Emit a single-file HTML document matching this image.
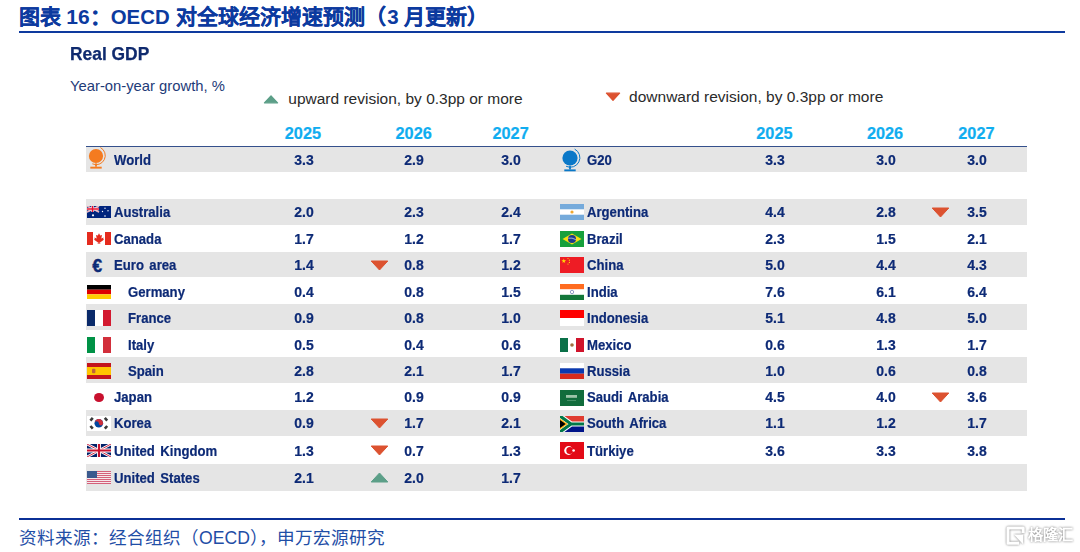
<!DOCTYPE html>
<html lang="zh-CN"><head><meta charset="utf-8"><style>
html,body{margin:0;padding:0;background:#fff;}
body{width:1080px;height:552px;position:relative;overflow:hidden;font-family:"Liberation Sans",sans-serif;}
.a{position:absolute;white-space:nowrap;}
.band{position:absolute;left:86px;width:940.5px;background:#e5e5e5;}
.t{position:absolute;white-space:nowrap;font-weight:bold;font-size:14.6px;color:#0d2a76;line-height:16px;-webkit-text-stroke:0.2px #0d2a76;transform:scaleX(0.9);transform-origin:0 0;word-spacing:2px;}
.n{position:absolute;white-space:nowrap;font-weight:bold;font-size:14.6px;color:#0d2a76;line-height:16px;-webkit-text-stroke:0.2px #0d2a76;width:40px;text-align:center;transform:scaleX(0.96);}
.yr{position:absolute;white-space:nowrap;font-weight:bold;font-size:16.3px;color:#10adf0;line-height:18px;width:60px;text-align:center;top:124.2px;-webkit-text-stroke:0.2px #10adf0;}
.f{position:absolute;line-height:0;}
.f svg{display:block;}
.ck{-webkit-text-stroke:0.12px #0c3a9f;}
</style></head><body>

<div class="a" style="left:18.5px;top:4px;font-size:21px;font-weight:bold;color:#0c3a9f;line-height:26px;"><span class="ck">图表</span><span style="font-size:21px"> 16</span><span class="ck">：</span><span style="font-size:20.4px;margin-right:1px">OECD </span><span class="ck">对全球经济增速预测（</span><span style="font-size:20.5px;margin-left:1px">3 </span><span class="ck">月更新）</span></div>
<div class="a" style="left:18.6px;top:31px;width:1046.4px;height:2px;background:#0e3a9e;"></div>
<div class="a" style="left:70.3px;top:44px;font-size:18.6px;font-weight:bold;color:#0f2a6e;line-height:20px;transform:scaleX(0.935);transform-origin:0 0;-webkit-text-stroke:0.25px #0f2a6e;">Real GDP</div>
<div class="a" style="left:70px;top:76.8px;font-size:14.8px;color:#1e3b78;line-height:18px;">Year-on-year growth, %</div>
<svg class="a" style="left:262.5px;top:93.6px" width="16" height="10" viewBox="0 0 16 10"><path d="M8 1.8L14.6 8.8H1.4Z" fill="#5c9f88" stroke="#5c9f88" stroke-width="1.2" stroke-linejoin="round"/></svg>
<div class="a" style="left:288.3px;top:90px;font-size:15.5px;color:#2a2a2a;line-height:18px;">upward revision, by 0.3pp or more</div>
<svg class="a" style="left:604.5px;top:92.2px" width="16" height="10" viewBox="0 0 16 10"><path d="M1.4 1.2H14.6L8 8.4Z" fill="#dc5230" stroke="#dc5230" stroke-width="1.2" stroke-linejoin="round"/></svg>
<div class="a" style="left:629.1px;top:88px;font-size:15.5px;color:#2a2a2a;line-height:18px;">downward revision, by 0.3pp or more</div>
<div class="yr" style="left:272.9px">2025</div>
<div class="yr" style="left:383.7px">2026</div>
<div class="yr" style="left:480.6px">2027</div>
<div class="yr" style="left:744.4px">2025</div>
<div class="yr" style="left:855.0px">2026</div>
<div class="yr" style="left:946.4px">2027</div>
<div class="a" style="left:86px;top:146px;width:940.5px;height:1px;background:#34508c;"></div>
<div class="band" style="top:147px;height:25px"></div>
<div class="f" style="left:83.50px;top:144.00px"><svg width="26" height="28" viewBox="0 0 26 28"><circle cx="12" cy="12" r="7.1" fill="#f47b20"/>
<path d="M16.45 3.55A9.1 9.1 0 0 1 8.33 19.83" fill="none" stroke="#f47b20" stroke-width="1"/>
<rect x="11.10" y="19.33" width="1.8" height="3.37" fill="#f47b20"/><rect x="6.30" y="22.70" width="11.4" height="1.9" fill="#f47b20"/></svg></div>
<div class="t" style="left:113.7px;top:151.84px">World</div>
<div class="n" style="left:283.5px;top:151.84px">3.3</div>
<div class="n" style="left:394.3px;top:151.84px">2.9</div>
<div class="n" style="left:491.2px;top:151.84px">3.0</div>
<div class="f" style="left:557.90px;top:145.60px"><svg width="26" height="28" viewBox="0 0 26 28"><circle cx="12" cy="12" r="7.6" fill="#0a78c8"/>
<path d="M16.66 3.10A9.6 9.6 0 0 1 8.09 20.28" fill="none" stroke="#0a78c8" stroke-width="1"/>
<rect x="11.10" y="19.78" width="1.8" height="3.62" fill="#0a78c8"/><rect x="6.30" y="23.40" width="11.4" height="1.9" fill="#0a78c8"/></svg></div>
<div class="t" style="left:587.0px;top:151.84px">G20</div>
<div class="n" style="left:755.0px;top:151.84px">3.3</div>
<div class="n" style="left:865.6px;top:151.84px">3.0</div>
<div class="n" style="left:957.0px;top:151.84px">3.0</div>
<div class="band" style="top:198.5px;height:26.0px"></div>
<div class="band" style="top:251.5px;height:25.8px"></div>
<div class="band" style="top:304.3px;height:26.0px"></div>
<div class="band" style="top:356.9px;height:26.0px"></div>
<div class="band" style="top:409.5px;height:26.3px"></div>
<div class="band" style="top:463.7px;height:27.6px"></div>
<div class="f" style="left:86.7px;top:205.9px"><svg width="24" height="12" viewBox="0 0 24 12"><rect width="24" height="12" fill="#00247d"/>
<path d="M0 0L12 6M12 0L0 6" stroke="#fff" stroke-width="1.5"/><path d="M0 0L12 6M12 0L0 6" stroke="#e4203c" stroke-width="0.5"/>
<path d="M5.5 0V6M0 3H12" stroke="#fff" stroke-width="2.4"/><path d="M5.5 0V6M0 3H12" stroke="#e8102e" stroke-width="1.4"/>
<circle cx="6" cy="9.3" r="1.1" fill="#fff"/><circle cx="18" cy="2.2" r="0.7" fill="#fff"/><circle cx="15.5" cy="5.5" r="0.7" fill="#fff"/><circle cx="21" cy="4.8" r="0.7" fill="#fff"/><circle cx="18" cy="10" r="0.8" fill="#fff"/></svg></div>
<div class="t" style="left:113.7px;top:204.44px">Australia</div>
<div class="n" style="left:283.5px;top:204.44px">2.0</div>
<div class="n" style="left:394.3px;top:204.44px">2.3</div>
<div class="n" style="left:491.2px;top:204.44px">2.4</div>
<div class="f" style="left:86.7px;top:232.0px"><svg width="24" height="13" viewBox="0 0 24 13"><rect width="24" height="13" fill="#fff"/><rect width="6" height="13" fill="#e52b1e"/><rect x="18" width="6" height="13" fill="#e52b1e"/>
<path d="M12 1.2L13.2 3.6L15 3.1L14.3 6.6L16.6 5.4L16.2 7.2L17.2 7.6L13 10.4L13.3 12H12.4V10.6H11.6V12H10.7L11 10.4L6.8 7.6L7.8 7.2L7.4 5.4L9.7 6.6L9 3.1L10.8 3.6Z" fill="#e52b1e"/></svg></div>
<div class="t" style="left:113.7px;top:230.94px">Canada</div>
<div class="n" style="left:283.5px;top:230.94px">1.7</div>
<div class="n" style="left:394.3px;top:230.94px">1.2</div>
<div class="n" style="left:491.2px;top:230.94px">1.7</div>
<div class="a" style="left:92.3px;top:255.5px;font-size:18px;font-weight:bold;color:#0d2a76;-webkit-text-stroke:0.3px #0d2a76;line-height:20px;">€</div>
<div class="t" style="left:114.1px;top:257.44px">Euro area</div>
<div class="n" style="left:283.5px;top:257.44px">1.4</div>
<div class="n" style="left:394.3px;top:257.44px">0.8</div>
<svg class="a" style="left:369.8px;top:260.0px" width="19" height="11" viewBox="0 0 19 11"><path d="M1.2 1H17.8L9.5 10Z" fill="#dc5230" stroke="#dc5230" stroke-width="1" stroke-linejoin="round"/></svg>
<div class="n" style="left:491.2px;top:257.44px">1.2</div>
<div class="f" style="left:86.7px;top:284.7px"><svg width="24" height="14" viewBox="0 0 24 14"><rect width="24" height="4.7" fill="#000"/><rect y="4.7" width="24" height="4.6" fill="#dd0000"/><rect y="9.3" width="24" height="4.7" fill="#ffce00"/></svg></div>
<div class="t" style="left:127.5px;top:283.84px">Germany</div>
<div class="n" style="left:283.5px;top:283.84px">0.4</div>
<div class="n" style="left:394.3px;top:283.84px">0.8</div>
<div class="n" style="left:491.2px;top:283.84px">1.5</div>
<div class="f" style="left:86.7px;top:310.0px"><svg width="24" height="16" viewBox="0 0 24 16"><rect width="8" height="16" fill="#0a2a6a"/><rect x="8" width="8" height="16" fill="#fff"/><rect x="16" width="8" height="16" fill="#d31a30"/></svg></div>
<div class="t" style="left:127.5px;top:310.24px">France</div>
<div class="n" style="left:283.5px;top:310.24px">0.9</div>
<div class="n" style="left:394.3px;top:310.24px">0.8</div>
<div class="n" style="left:491.2px;top:310.24px">1.0</div>
<div class="f" style="left:86.7px;top:336.5px"><svg width="24" height="16" viewBox="0 0 24 16"><rect width="8" height="16" fill="#009246"/><rect x="8" width="8" height="16" fill="#fff"/><rect x="16" width="8" height="16" fill="#d22f3b"/></svg></div>
<div class="t" style="left:127.5px;top:336.54px">Italy</div>
<div class="n" style="left:283.5px;top:336.54px">0.5</div>
<div class="n" style="left:394.3px;top:336.54px">0.4</div>
<div class="n" style="left:491.2px;top:336.54px">0.6</div>
<div class="f" style="left:86.7px;top:363.0px"><svg width="24" height="16" viewBox="0 0 24 16"><rect width="24" height="16" fill="#c3141d"/><rect y="4" width="24" height="8" fill="#ffc400"/><rect x="5" y="5.8" width="3.4" height="4.4" rx="1" fill="#c0623a"/></svg></div>
<div class="t" style="left:127.5px;top:362.84px">Spain</div>
<div class="n" style="left:283.5px;top:362.84px">2.8</div>
<div class="n" style="left:394.3px;top:362.84px">2.1</div>
<div class="n" style="left:491.2px;top:362.84px">1.7</div>
<div class="a" style="left:93.8px;top:392.8px;width:10.3px;height:9.4px;border-radius:50%;background:#c8102e;"></div>
<div class="t" style="left:113.9px;top:389.14px">Japan</div>
<div class="n" style="left:283.5px;top:389.14px">1.2</div>
<div class="n" style="left:394.3px;top:389.14px">0.9</div>
<div class="n" style="left:491.2px;top:389.14px">0.9</div>
<div class="f" style="left:86.7px;top:416.2px"><svg width="24" height="15" viewBox="0 0 24 15"><rect width="24" height="15" fill="#fff"/>
<circle cx="11.8" cy="7.3" r="4.3" fill="#0047a0"/><path d="M7.5 7.3a4.3 4.3 0 0 1 8.6 0a2.15 2.15 0 0 1 -4.3 0a2.15 2.15 0 0 0 -4.3 0z" fill="#cd2e3a"/>
<g stroke="#3a3a3a" stroke-width="2.6"><path d="M3.4 4.6L5.8 1.9M17.8 1.9L20.2 4.6M3.4 10L5.8 12.7M17.8 12.7L20.2 10"/></g></svg></div>
<div class="t" style="left:113.9px;top:415.44px">Korea</div>
<div class="n" style="left:283.5px;top:415.44px">0.9</div>
<div class="n" style="left:394.3px;top:415.44px">1.7</div>
<svg class="a" style="left:369.8px;top:418.0px" width="19" height="11" viewBox="0 0 19 11"><path d="M1.2 1H17.8L9.5 10Z" fill="#dc5230" stroke="#dc5230" stroke-width="1" stroke-linejoin="round"/></svg>
<div class="n" style="left:491.2px;top:415.44px">2.1</div>
<div class="f" style="left:86.7px;top:444.4px"><svg width="24" height="13" viewBox="0 0 24 13"><rect width="24" height="13" fill="#012169"/>
<path d="M0 0L24 13M24 0L0 13" stroke="#fff" stroke-width="2.6"/><path d="M0 0L24 13M24 0L0 13" stroke="#c8102e" stroke-width="0.9"/>
<path d="M12 0V13M0 6.5H24" stroke="#fff" stroke-width="4"/><path d="M12 0V13M0 6.5H24" stroke="#c8102e" stroke-width="2.2"/></svg></div>
<div class="t" style="left:113.7px;top:442.54px">United Kingdom</div>
<div class="n" style="left:283.5px;top:442.54px">1.3</div>
<div class="n" style="left:394.3px;top:442.54px">0.7</div>
<svg class="a" style="left:369.8px;top:445.1px" width="19" height="11" viewBox="0 0 19 11"><path d="M1.2 1H17.8L9.5 10Z" fill="#dc5230" stroke="#dc5230" stroke-width="1" stroke-linejoin="round"/></svg>
<div class="n" style="left:491.2px;top:442.54px">1.3</div>
<div class="f" style="left:86.7px;top:471.0px"><svg width="24" height="13" viewBox="0 0 24 13"><rect width="24" height="13" fill="#f6e6ea"/>
<g><rect y="0.00" width="24" height="1" fill="#d4607a"/><rect y="2.00" width="24" height="1" fill="#d4607a"/><rect y="4.00" width="24" height="1" fill="#d4607a"/><rect y="6.00" width="24" height="1" fill="#d4607a"/><rect y="8.00" width="24" height="1" fill="#d4607a"/><rect y="10.00" width="24" height="1" fill="#d4607a"/><rect y="12.00" width="24" height="1" fill="#d4607a"/></g><rect width="10" height="7" fill="#3a5a8e"/></svg></div>
<div class="t" style="left:113.7px;top:469.64px">United States</div>
<div class="n" style="left:283.5px;top:469.64px">2.1</div>
<div class="n" style="left:394.3px;top:469.64px">2.0</div>
<svg class="a" style="left:369.8px;top:472.2px" width="19" height="11" viewBox="0 0 19 11"><path d="M9.5 1L17.8 10H1.2Z" fill="#5c9f88" stroke="#5c9f88" stroke-width="1" stroke-linejoin="round"/></svg>
<div class="n" style="left:491.2px;top:469.64px">1.7</div>
<div class="f" style="left:559.7px;top:204.2px"><svg width="24" height="16" viewBox="0 0 24 16"><rect width="24" height="16" fill="#75aadb"/><rect y="5.3" width="24" height="5.4" fill="#fff"/><circle cx="12" cy="8" r="1.6" fill="#f0a830"/></svg></div>
<div class="t" style="left:587.0px;top:204.44px">Argentina</div>
<div class="n" style="left:755.0px;top:204.44px">4.4</div>
<div class="n" style="left:865.6px;top:204.44px">2.8</div>
<div class="n" style="left:957.0px;top:204.44px">3.5</div>
<svg class="a" style="left:931.2px;top:207.0px" width="19" height="11" viewBox="0 0 19 11"><path d="M1.2 1H17.8L9.5 10Z" fill="#dc5230" stroke="#dc5230" stroke-width="1" stroke-linejoin="round"/></svg>
<div class="f" style="left:559.7px;top:230.5px"><svg width="24" height="16" viewBox="0 0 24 16"><rect width="24" height="16" fill="#16a03c"/><path d="M2.5 8L12 2.4L21.5 8L12 13.6Z" fill="#f5dc10"/><circle cx="12" cy="8" r="4" fill="#1c3a8c"/><path d="M8.2 7.2Q12 6.4 15.8 8.6" stroke="#fff" stroke-width="0.6" fill="none"/></svg></div>
<div class="t" style="left:587.0px;top:230.94px">Brazil</div>
<div class="n" style="left:755.0px;top:230.94px">2.3</div>
<div class="n" style="left:865.6px;top:230.94px">1.5</div>
<div class="n" style="left:957.0px;top:230.94px">2.1</div>
<div class="f" style="left:559.7px;top:257.1px"><svg width="24" height="16" viewBox="0 0 24 16"><rect width="24" height="16" fill="#ee1c25"/><path d="M3.8 1.6L4.4 3.3L6.1 3.3L4.7 4.4L5.2 6L3.8 5L2.4 6L2.9 4.4L1.5 3.3L3.2 3.3Z" fill="#ffde00"/><circle cx="8" cy="1.5" r="0.6" fill="#ffde00"/><circle cx="9.4" cy="3.2" r="0.6" fill="#ffde00"/><circle cx="9.4" cy="5.4" r="0.6" fill="#ffde00"/><circle cx="8" cy="7" r="0.6" fill="#ffde00"/></svg></div>
<div class="t" style="left:587.0px;top:257.44px">China</div>
<div class="n" style="left:755.0px;top:257.44px">5.0</div>
<div class="n" style="left:865.6px;top:257.44px">4.4</div>
<div class="n" style="left:957.0px;top:257.44px">4.3</div>
<div class="f" style="left:559.7px;top:283.8px"><svg width="24" height="16" viewBox="0 0 24 16"><rect width="24" height="16" fill="#fff"/><rect width="24" height="5.2" fill="#ff6b1f"/><rect y="10.8" width="24" height="5.2" fill="#13773a"/><circle cx="12" cy="8" r="1.7" fill="none" stroke="#5060a8" stroke-width="0.6"/></svg></div>
<div class="t" style="left:587.0px;top:283.84px">India</div>
<div class="n" style="left:755.0px;top:283.84px">7.6</div>
<div class="n" style="left:865.6px;top:283.84px">6.1</div>
<div class="n" style="left:957.0px;top:283.84px">6.4</div>
<div class="f" style="left:559.7px;top:310.0px"><svg width="24" height="16" viewBox="0 0 24 16"><rect width="24" height="16" fill="#fff"/><rect width="24" height="8" fill="#ff0000"/></svg></div>
<div class="t" style="left:587.0px;top:310.24px">Indonesia</div>
<div class="n" style="left:755.0px;top:310.24px">5.1</div>
<div class="n" style="left:865.6px;top:310.24px">4.8</div>
<div class="n" style="left:957.0px;top:310.24px">5.0</div>
<div class="f" style="left:559.7px;top:337.6px"><svg width="24" height="14" viewBox="0 0 24 14"><rect width="8" height="14" fill="#0a7048"/><rect x="8" width="8" height="14" fill="#fff"/><rect x="16" width="8" height="14" fill="#d0142c"/><circle cx="12" cy="7" r="1.8" fill="#a07040"/></svg></div>
<div class="t" style="left:587.0px;top:336.54px">Mexico</div>
<div class="n" style="left:755.0px;top:336.54px">0.6</div>
<div class="n" style="left:865.6px;top:336.54px">1.3</div>
<div class="n" style="left:957.0px;top:336.54px">1.7</div>
<div class="f" style="left:559.7px;top:363.1px"><svg width="24" height="16" viewBox="0 0 24 16"><rect width="24" height="5.3" fill="#fff"/><rect y="5.3" width="24" height="5.4" fill="#0a39b0"/><rect y="10.7" width="24" height="5.3" fill="#d62b1e"/></svg></div>
<div class="t" style="left:587.0px;top:362.84px">Russia</div>
<div class="n" style="left:755.0px;top:362.84px">1.0</div>
<div class="n" style="left:865.6px;top:362.84px">0.6</div>
<div class="n" style="left:957.0px;top:362.84px">0.8</div>
<div class="f" style="left:559.7px;top:389.5px"><svg width="24" height="16" viewBox="0 0 24 16"><rect width="24" height="16" fill="#116c3c"/><rect x="6" y="5" width="11" height="2.8" fill="#9cc4a8"/><rect x="7" y="10.2" width="9" height="0.6" fill="#6aa884"/></svg></div>
<div class="t" style="left:587.0px;top:389.14px">Saudi Arabia</div>
<div class="n" style="left:755.0px;top:389.14px">4.5</div>
<div class="n" style="left:865.6px;top:389.14px">4.0</div>
<div class="n" style="left:957.0px;top:389.14px">3.6</div>
<svg class="a" style="left:931.2px;top:391.7px" width="19" height="11" viewBox="0 0 19 11"><path d="M1.2 1H17.8L9.5 10Z" fill="#dc5230" stroke="#dc5230" stroke-width="1" stroke-linejoin="round"/></svg>
<div class="f" style="left:559.7px;top:416.0px"><svg width="24" height="16" viewBox="0 0 24 16"><rect width="24" height="8" fill="#e03c31"/><rect y="8" width="24" height="8" fill="#001489"/>
<path d="M0 0L11 8L0 16M11 8H24" fill="none" stroke="#fff" stroke-width="5.2"/><path d="M0 0L11 8L0 16M11 8H24" fill="none" stroke="#007749" stroke-width="3.1"/>
<path d="M0 2.4L7.8 8L0 13.6Z" fill="#ffb612"/><path d="M0 3.9L5.7 8L0 12.1Z" fill="#000"/></svg></div>
<div class="t" style="left:587.0px;top:415.44px">South Africa</div>
<div class="n" style="left:755.0px;top:415.44px">1.1</div>
<div class="n" style="left:865.6px;top:415.44px">1.2</div>
<div class="n" style="left:957.0px;top:415.44px">1.7</div>
<div class="f" style="left:559.7px;top:442.4px"><svg width="24" height="17" viewBox="0 0 24 17"><rect width="24" height="17" fill="#e30a17"/><circle cx="8.6" cy="8.5" r="4.4" fill="#fff"/><circle cx="9.8" cy="8.5" r="3.5" fill="#e30a17"/><circle cx="13.6" cy="8.5" r="1.3" fill="#fff"/></svg></div>
<div class="t" style="left:587.0px;top:442.54px">Türkiye</div>
<div class="n" style="left:755.0px;top:442.54px">3.6</div>
<div class="n" style="left:865.6px;top:442.54px">3.3</div>
<div class="n" style="left:957.0px;top:442.54px">3.8</div>
<div class="a" style="left:18.6px;top:517.6px;width:1046.4px;height:2px;background:#0b3096;"></div>
<div class="a" style="left:19px;top:527px;font-size:17.6px;color:#1f4ea6;line-height:22px;">资料来源：经合组织（OECD），申万宏源研究</div>
<svg class="a" style="left:1004.5px;top:524.5px;filter:drop-shadow(0.7px 0.9px 0.8px rgba(0,0,0,0.55))" width="21" height="21" viewBox="0 0 21 21"><path d="M18.2 8V3H3V18.2H14" fill="none" stroke="#fff" stroke-width="3" stroke-linejoin="round"/><path d="M9 9.5H18.2V19.5L9 9.5Z" fill="#fff"/></svg>
<div class="a" style="left:1027.5px;top:524px;font-size:15.2px;color:#fff;line-height:22px;font-weight:bold;filter:drop-shadow(0.7px 0.9px 0.8px rgba(0,0,0,0.55));">格隆汇</div>
</body></html>
